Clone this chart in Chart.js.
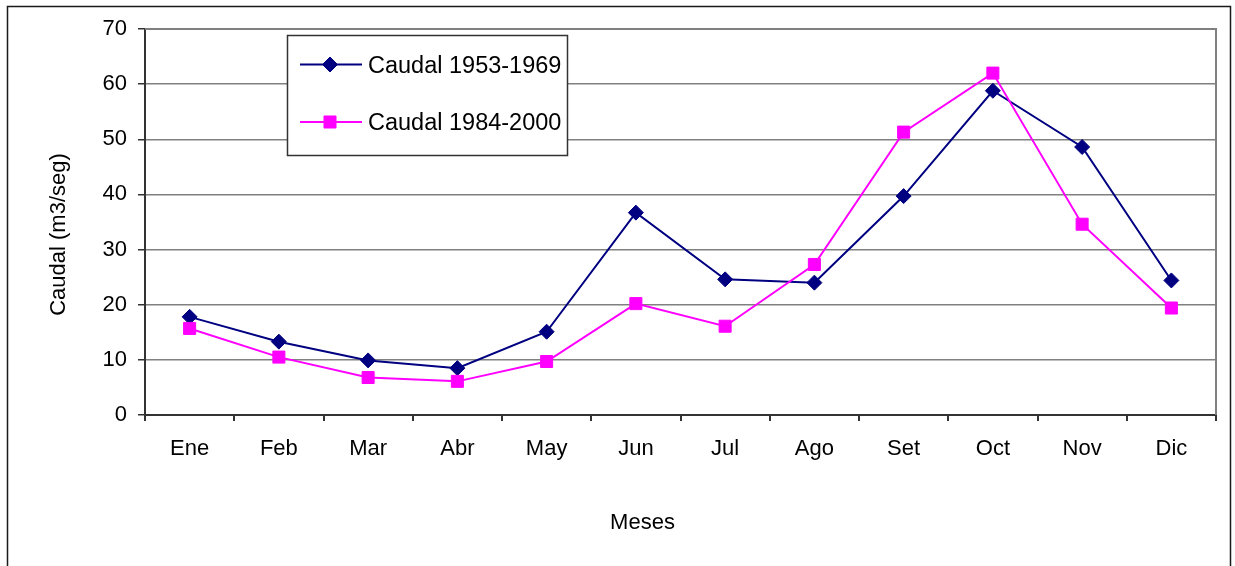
<!DOCTYPE html>
<html>
<head>
<meta charset="utf-8">
<script src="https://cdn.jsdelivr.net/npm/chart.js@4"></script>
<style>
  html, body { margin: 0; padding: 0; background: #ffffff; }
  #wrap { position: relative; width: 1235px; height: 566px; }
</style>
</head>
<body>
<div id="wrap"><canvas id="c"></canvas></div>
<script>
const months = ["Ene", "Feb", "Mar", "Abr", "May", "Jun", "Jul", "Ago", "Set", "Oct", "Nov", "Dic"];
const caudal1953_1969 = [17.8, 13.3, 9.9, 8.5, 15.1, 36.7, 24.6, 24.0, 39.7, 58.8, 48.6, 24.4];
const caudal1984_2000 = [15.7, 10.5, 6.8, 6.1, 9.7, 20.2, 16.1, 27.3, 51.3, 62.0, 34.6, 19.4];
const seriesLabels = ["Caudal 1953-1969", "Caudal 1984-2000"];
const yTitle = "Caudal (m3/seg)";
const xTitle = "Meses";
const yMin = 0, yMax = 70, yStep = 10;

const FONT = "'Liberation Sans', Arial, sans-serif";
Chart.defaults.font.family = FONT;
Chart.defaults.color = '#000';

function drawMarker(ctx, style, x, y, r, fill, stroke) {
  ctx.save();
  ctx.fillStyle = fill; ctx.strokeStyle = stroke; ctx.lineWidth = 1;
  ctx.beginPath();
  if (style === 'rectRot') {
    ctx.moveTo(x - r, y); ctx.lineTo(x, y - r); ctx.lineTo(x + r, y); ctx.lineTo(x, y + r);
    ctx.closePath();
  } else {
    const s = Math.SQRT1_2 * r;
    ctx.rect(x - s, y - s, 2 * s, 2 * s);
  }
  ctx.fill(); ctx.stroke();
  ctx.restore();
}

const decor = {
  id: 'decor',
  beforeDatasetsDraw(chart) {
    const {ctx, chartArea: a} = chart;
    ctx.save();
    ctx.strokeStyle = '#808080';
    ctx.lineWidth = 2;
    ctx.beginPath();
    ctx.moveTo(a.left, a.top); ctx.lineTo(a.right, a.top); ctx.lineTo(a.right, a.bottom);
    ctx.stroke();
    ctx.restore();
  },
  afterDraw(chart) {
    const {ctx} = chart;
    ctx.save();
    // outer frame
    ctx.strokeStyle = '#1a1a1a';
    ctx.lineWidth = 1.5;
    ctx.beginPath();
    ctx.moveTo(7.5, 570); ctx.lineTo(7.5, 6.5); ctx.lineTo(1230.5, 6.5); ctx.lineTo(1230.5, 570);
    ctx.stroke();
    // axis titles
    ctx.fillStyle = '#000';
    ctx.font = "22px " + FONT;
    ctx.textAlign = 'center';
    ctx.textBaseline = 'alphabetic';
    ctx.fillText(xTitle, 642.5, 529);
    ctx.save();
    ctx.translate(65, 234.5);
    ctx.rotate(-Math.PI / 2);
    ctx.fillText(yTitle, 0, 0);
    ctx.restore();
    // legend
    ctx.fillStyle = '#fff';
    ctx.fillRect(287.5, 35.5, 280, 120);
    ctx.strokeStyle = '#333';
    ctx.lineWidth = 1.5;
    ctx.strokeRect(287.5, 35.5, 280, 120);
    const rows = [64.5, 122];
    const bases = [72.5, 130];
    chart.data.datasets.forEach((ds, i) => {
      const y = rows[i];
      ctx.strokeStyle = ds.borderColor;
      ctx.lineWidth = 2;
      ctx.beginPath(); ctx.moveTo(300, y); ctx.lineTo(362, y); ctx.stroke();
      drawMarker(ctx, ds.pointStyle, 330, y, ds.pointRadius, ds.pointBackgroundColor, ds.pointBorderColor);
      ctx.fillStyle = '#000';
      ctx.font = "23.5px " + FONT;
      ctx.textAlign = 'left';
      ctx.textBaseline = 'alphabetic';
      ctx.fillText(ds.label, 368, bases[i]);
    });
    ctx.restore();
  }
};

new Chart(document.getElementById('c'), {
  type: 'line',
  data: {
    labels: months,
    datasets: [
      {
        label: seriesLabels[0],
        data: caudal1953_1969,
        borderColor: '#000080',
        backgroundColor: '#000080',
        borderWidth: 2,
        pointStyle: 'rectRot',
        pointRadius: 7.5,
        pointHoverRadius: 7.5,
        pointBackgroundColor: '#000080',
        pointBorderColor: '#000080',
        pointBorderWidth: 1,
        tension: 0,
        order: 1
      },
      {
        label: seriesLabels[1],
        data: caudal1984_2000,
        borderColor: '#ff00ff',
        backgroundColor: '#ff00ff',
        borderWidth: 2,
        pointStyle: 'rect',
        pointRadius: 8.5,
        pointHoverRadius: 8.5,
        pointBackgroundColor: '#ff00ff',
        pointBorderColor: '#ff00ff',
        pointBorderWidth: 1,
        tension: 0,
        order: 0
      }
    ]
  },
  options: {
    responsive: true,
    maintainAspectRatio: false,
    animation: false,
    layout: { padding: { top: 29, left: 0, right: 19, bottom: 0 } },
    plugins: { legend: { display: false }, tooltip: { enabled: false }, title: { display: false } },
    scales: {
      x: {
        offset: true,
        grid: { offset: true, drawOnChartArea: false, drawTicks: true, tickLength: 6, tickColor: '#333', lineWidth: 2 },
        border: { display: true, color: '#333', width: 2 },
        ticks: { font: { size: 22 }, color: '#000', padding: 15, maxRotation: 0, autoSkip: false },
        afterFit(scale) { scale.height = 151; }
      },
      y: {
        min: yMin, max: yMax,
        grid: { color: '#808080', lineWidth: 1.5, tickLength: 7, tickColor: '#333', drawTicks: true },
        border: { display: true, color: '#333', width: 2 },
        ticks: { stepSize: yStep, font: { size: 22 }, color: '#000', padding: 11 },
        afterFit(scale) { scale.width = 145; }
      }
    }
  },
  plugins: [decor]
});
</script>
</body>
</html>
